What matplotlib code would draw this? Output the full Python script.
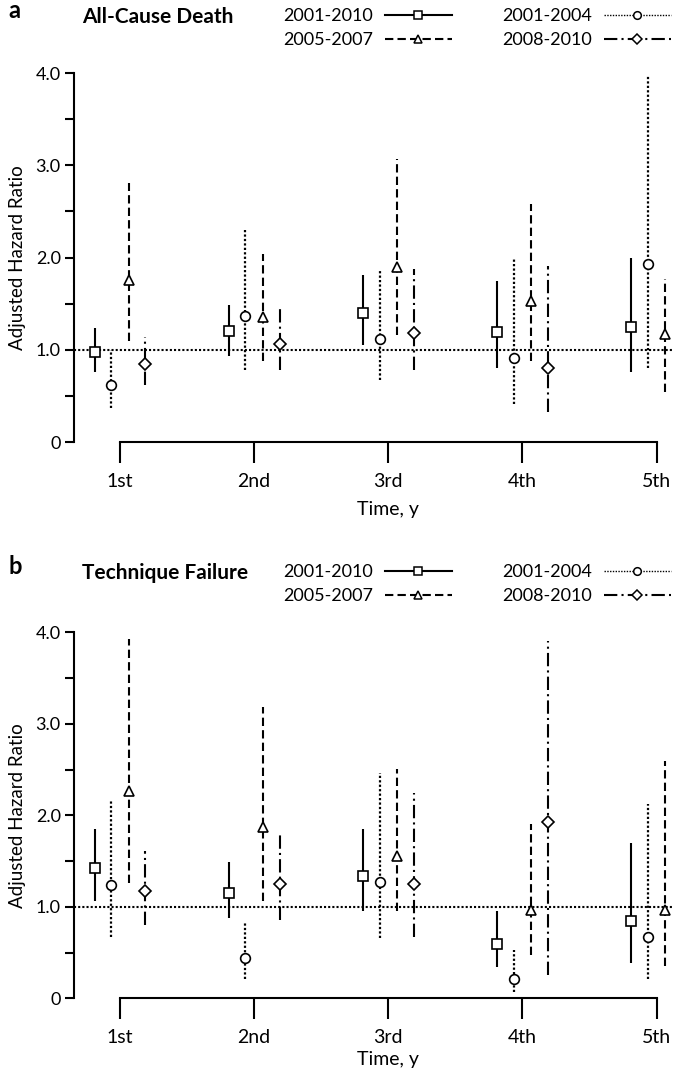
import numpy as np
import matplotlib
matplotlib.use('Agg')
import matplotlib.pyplot as plt
from matplotlib.lines import Line2D

plt.rcParams['font.family'] = ['Lato', 'DejaVu Sans']

years = ['1st', '2nd', '3rd', '4th', '5th']
periods = ['2001-2010', '2001-2004', '2005-2007', '2008-2010']
nan = np.nan

# a: all-cause death (hazard ratio, lower CI, upper CI)
death_hr_0110 = [0.98, 1.21, 1.40, 1.195, 1.25]
death_lo_0110 = [0.765, 0.94, 1.05, 0.80, 0.76]
death_hi_0110 = [1.235, 1.49, 1.81, 1.745, 2.00]
death_hr_0104 = [0.62, 1.37, 1.12, 0.915, 1.93]
death_lo_0104 = [0.37, 0.78, 0.68, 0.41, 0.80]
death_hi_0104 = [1.00, 2.31, 1.85, 2.00, 3.97]
death_hr_0507 = [1.76, 1.355, 1.90, 1.53, 1.17]
death_lo_0507 = [1.10, 0.885, 1.16, 0.885, 0.54]
death_hi_0507 = [2.81, 2.04, 3.07, 2.58, 1.77]
death_hr_0810 = [0.85, 1.065, 1.18, 0.81, nan]
death_lo_0810 = [0.62, 0.78, 0.78, 0.33, nan]
death_hi_0810 = [1.145, 1.44, 1.88, 1.91, nan]

# b: technique failure
fail_hr_0110 = [1.42, 1.15, 1.34, 0.59, 0.84]
fail_lo_0110 = [1.06, 0.875, 0.95, 0.34, 0.39]
fail_hi_0110 = [1.85, 1.49, 1.855, 0.95, 1.70]
fail_hr_0104 = [1.24, 0.445, 1.275, 0.21, 0.675]
fail_lo_0104 = [0.67, 0.21, 0.655, 0.07, 0.21]
fail_hi_0104 = [2.17, 0.82, 2.46, 0.53, 2.12]
fail_hr_0507 = [2.27, 1.87, 1.55, 0.965, 0.97]
fail_lo_0507 = [1.26, 1.06, 0.95, 0.47, 0.35]
fail_hi_0507 = [3.93, 3.18, 2.51, 1.91, 2.59]
fail_hr_0810 = [1.175, 1.25, 1.25, 1.93, nan]
fail_lo_0810 = [0.80, 0.855, 0.67, 0.255, nan]
fail_hi_0810 = [1.61, 1.80, 2.24, 3.90, nan]

# styles per period: marker, line style, offset, marker size
styles = [('s', '-', -0.19, 6.5),
          ('o', (0, (1, 1)), -0.065, 7),
          ('^', (0, (4, 2)), 0.065, 7.5),
          ('D', (0, (6.4, 2, 1, 2)), 0.19, 6)]

fig = plt.figure(figsize=(6.75, 10.73), dpi=100)
W, H = 675, 1073


def panel(rect, hrs, los, his, letter, title, top_px, xlab_y):
    ax = fig.add_axes(rect)
    x = np.arange(1, 6)
    ax.axhline(1.0, color='black', lw=1.5, ls=(0, (1, 1)), zorder=1)
    for (mk, ls, off, ms), hr, lo, hi in zip(styles, hrs, los, his):
        ax.vlines(x + off, lo, hi, colors='black', linestyles=ls,
                  lw=1.5 if mk != 'o' else 1.6, zorder=2)
        ax.plot(x + off, hr, ls='none', marker=mk, ms=ms, mfc='white',
                mec='black', mew=1.2, zorder=3)
    ax.set_xlim(0.657, 5.13)
    ax.set_ylim(0, 4.0)
    for s in ['top', 'right']:
        ax.spines[s].set_visible(False)
    ax.spines['left'].set_bounds(0, 4)
    ax.spines['bottom'].set_bounds(1, 5)
    for s in ['left', 'bottom']:
        ax.spines[s].set_linewidth(1.5)
    ax.set_xticks(x)
    ax.set_xticklabels(years)
    ax.set_yticks([0, 1, 2, 3, 4])
    ax.set_yticklabels(['0', '1.0', '2.0', '3.0', '4.0'])
    ax.set_yticks([0.5, 1.5, 2.5, 3.5], minor=True)
    ax.tick_params(axis='y', which='both', length=6.5, width=1.5, labelsize=13, pad=3)
    ax.tick_params(axis='x', length=15, width=1.5, labelsize=14, pad=7)
    ax.set_xlabel('Time, y', fontsize=14)
    ax.xaxis.set_label_coords(0.524, xlab_y)
    ax.set_ylabel('Adjusted Hazard Ratio', fontsize=13.5)
    ax.yaxis.set_label_coords(-0.08, 0.5)

    fig.text(8 / W, 1 - (top_px - 4) / H, letter, fontsize=17, fontweight='bold', va='center')
    fig.text(82 / W, 1 - (top_px + 2) / H, title, fontsize=15, fontweight='bold', va='center')
    handles = []
    order = [0, 2, 1, 3]
    for i in order:
        mk, ls, off, ms = styles[i]
        handles.append(Line2D([], [], color='black', ls=ls, lw=1.5 if i != 1 else 1.0,
                              marker=mk, ms=5.5 if mk != '^' else 6, mfc='white',
                              mec='black', mew=1.1))
    fig.legend(handles, [periods[i] for i in order], loc='upper left',
               bbox_to_anchor=(283 / W, 1 - (top_px - 7) / H), ncol=2, frameon=False,
               fontsize=13, handlelength=3.7, handletextpad=0.65, columnspacing=2.8,
               labelspacing=0.45, borderpad=0, borderaxespad=0, markerfirst=False)
    return ax


panel([74 / W, 1 - 442.3 / H, 600 / W, 369.3 / H],
      [death_hr_0110, death_hr_0104, death_hr_0507, death_hr_0810],
      [death_lo_0110, death_lo_0104, death_lo_0507, death_lo_0810],
      [death_hi_0110, death_hi_0104, death_hi_0507, death_hi_0810],
      'a', 'All-Cause Death', 15, -0.158)

panel([74 / W, 1 - 998.3 / H, 600 / W, 366 / H],
      [fail_hr_0110, fail_hr_0104, fail_hr_0507, fail_hr_0810],
      [fail_lo_0110, fail_lo_0104, fail_lo_0507, fail_lo_0810],
      [fail_hi_0110, fail_hi_0104, fail_hi_0507, fail_hi_0810],
      'b', 'Technique Failure', 571, -0.143)

fig.savefig('out.png', dpi=100)
